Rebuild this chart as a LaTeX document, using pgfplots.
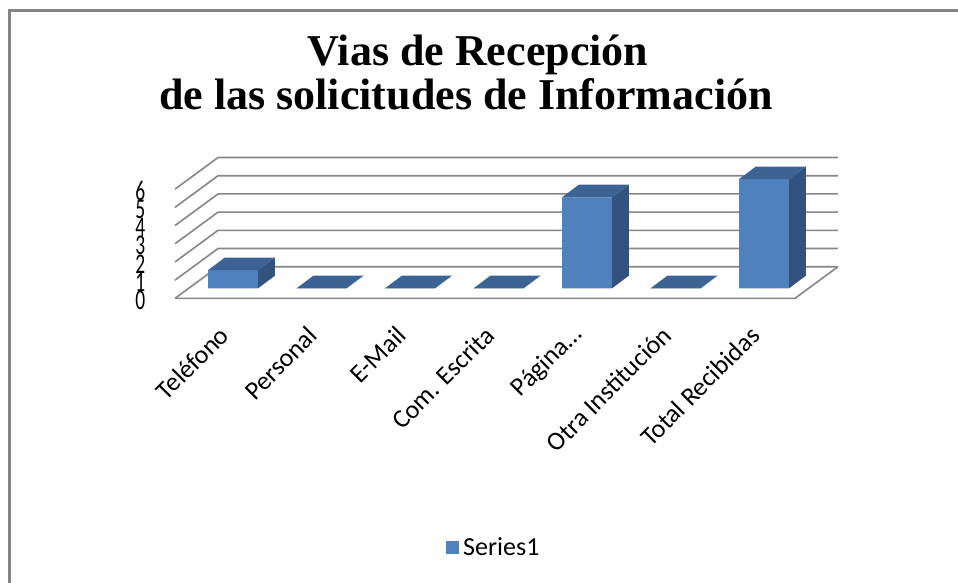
\documentclass[border=0pt]{standalone}
\usepackage{pgfplots}
\pgfplotsset{compat=1.18}
\usepackage{pgfplotstable}
\usepackage{graphicx}
\usepackage{fontspec}
\setmainfont{Carlito}
\newfontfamily\titlefont{Liberation Serif}

\definecolor{barfront}{RGB}{79,129,189}
\definecolor{bartop}{RGB}{60,99,148}
\definecolor{barside}{RGB}{50,83,127}
\definecolor{gridc}{RGB}{134,134,134}
\definecolor{framec}{RGB}{134,134,134}

\pgfplotstableread{
x v
0 1
1 0
2 0
3 0
4 5
5 0
6 6
}\datatable

\begin{document}
\begin{tikzpicture}
\path[use as bounding box] (0,0) rectangle (958pt,583pt);
\draw[framec, line width=3pt] (9.5pt,-2pt) -- (9.5pt,572pt) -- (962pt,572pt);
\node[font=\titlefont\bfseries\fontsize{44}{44}\selectfont, anchor=base, inner sep=0pt] at (478pt,517pt) {Vias de Recepción};
\node[font=\titlefont\bfseries\fontsize{44}{44}\selectfont, anchor=base, inner sep=0pt] at (466pt,473pt) {de las solicitudes de Información};
\begin{axis}[
  at={(144.5pt,252.8pt)}, anchor=south west,
  x=88.5pt, y=18.2pt,
  xmin=-1, xmax=7.2, ymin=-2.3, ymax=8,
  clip=false,
  axis line style={draw=none},
  tick style={draw=none},
  xtick={0,...,6},
  xticklabels={Teléfono, Personal, E-Mail, Com. Escrita, Página…, Otra Institución, Total Recibidas},
  xticklabel style={xshift=-8pt, rotate=45, anchor=east, inner sep=1pt, font=\fontsize{26}{26}\selectfont},
  ytick={0,...,6},
  yticklabel={\scalebox{0.75}[1.1]{\pgfmathprintnumber[assume math mode=true]{\tick}}},
  yticklabel style={inner sep=0pt, xshift=1pt, yshift=-12pt, font=\fontsize{26}{26}\selectfont},
  /pgf/number format/assume math mode=true,
  legend style={at={(0.4155,-1.1565)}, anchor=west, draw=none, fill=none,
    font=\fontsize{26}{26}\selectfont, inner sep=0pt},
]
% floor and walls
\addplot[gridc, line width=1.6pt, forget plot] coordinates {(-0.655,-0.549) (6.35,-0.549) (6.836,1.187)};
\addplot[gridc, line width=1.6pt, forget plot] coordinates {(-0.655,-0.549) (-0.169,1.187) (6.836,1.187)};
\addplot[gridc, line width=1.6pt, forget plot] coordinates {(-0.655,0.451) (-0.169,2.187) (6.836,2.187)};
\addplot[gridc, line width=1.6pt, forget plot] coordinates {(-0.655,1.451) (-0.169,3.187) (6.836,3.187)};
\addplot[gridc, line width=1.6pt, forget plot] coordinates {(-0.655,2.451) (-0.169,4.187) (6.836,4.187)};
\addplot[gridc, line width=1.6pt, forget plot] coordinates {(-0.655,3.451) (-0.169,5.187) (6.836,5.187)};
\addplot[gridc, line width=1.6pt, forget plot] coordinates {(-0.655,4.451) (-0.169,6.187) (6.836,6.187)};
\addplot[gridc, line width=1.6pt, forget plot] coordinates {(-0.655,5.451) (-0.169,7.187) (6.836,7.187)};
% front faces of the bars
\addplot[ybar, bar width=0.565, fill=barfront, draw=none,
  legend image code/.code={\fill[barfront] (0pt,-6.5pt) rectangle (13pt,6.5pt);}]
  table[x=x, y=v] {\datatable};
\addlegendentry{\hspace{2pt}Series1}
% side and top faces
\pgfplotsforeachungrouped \i in {0,...,6}{%
  \pgfplotstablegetelem{\i}{v}\of\datatable
  \pgfmathsetmacro\vv{\pgfplotsretval}
  \pgfmathsetmacro\xl{\i-0.2825}
  \pgfmathsetmacro\xr{\i+0.2825}
  \pgfmathsetmacro\xlb{\i-0.0925}
  \pgfmathsetmacro\xrb{\i+0.4725}
  \pgfmathsetmacro\vb{\vv+0.692}
  \edef\temp{%
    \noexpand\addplot[fill=barside, draw=none, forget plot] coordinates {(\xr,0) (\xr,\vv) (\xrb,\vb) (\xrb,0.692)};
    \noexpand\addplot[fill=bartop, draw=none, forget plot] coordinates {(\xl,\vv) (\xr,\vv) (\xrb,\vb) (\xlb,\vb)};
  }\temp
}
\end{axis}
\end{tikzpicture}
\end{document}
